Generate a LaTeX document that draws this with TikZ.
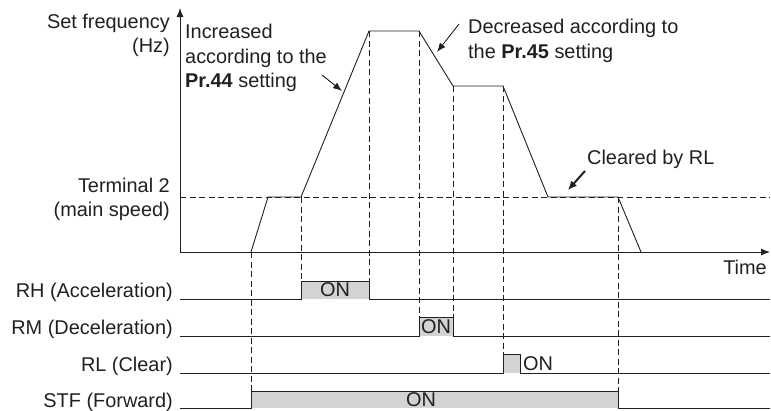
\documentclass[tikz,border=0pt]{standalone}
\usepackage{fontspec}
\setmainfont{Liberation Sans}
\usetikzlibrary{arrows.meta}
\definecolor{ink}{HTML}{231F20}
\definecolor{onfill}{HTML}{D1D3D4}
\begin{document}
\begin{tikzpicture}[x=1pt,y=-1pt,
  txt/.style={font=\fontsize{19.9}{24}\selectfont, text=ink, inner sep=0pt},
  lbl/.style={txt, anchor=base east},
  wave/.style={draw=ink, line width=0.9pt},
  guide/.style={draw=ink, line width=0.7pt, dash pattern=on 6pt off 3.5pt},
  onbox/.style={fill=onfill},
  axis/.style={draw=ink, line width=0.9pt, -{Latex[length=9pt,width=7pt]}},
  callout/.style={draw=ink, line width=0.9pt, -{Latex[length=9pt,width=7pt]}},
  boldcallout/.style={draw=ink, line width=2pt, -{Latex[length=9pt,width=8pt]}}]
\useasboundingbox (0,0) rectangle (771,410);

% curve points
\coordinate (o) at (180,252);
\coordinate (p0) at (251,252);
\coordinate (p1) at (268,197);
\coordinate (p2) at (301,197);
\coordinate (p3) at (369,31);
\coordinate (p4) at (419,31);
\coordinate (p5) at (453,86);
\coordinate (p6) at (503,86);
\coordinate (p7) at (548,197);
\coordinate (p8) at (618,197);
\coordinate (p9) at (641,252);
\coordinate (ytop) at (180,8);
\coordinate (xend) at (770,252);
\coordinate (t2a) at (180,197);
\coordinate (t2b) at (770,197);

% ON fills
\fill[onbox] (301,281) rectangle (369,299);
\fill[onbox] (419,317) rectangle (453,336);
\fill[onbox] (503,354) rectangle (520,373);
\fill[onbox] (251,391) rectangle (618,408);

% guides
\draw[guide] (t2a) -- (t2b);
\coordinate (g0) at (251,391);
\coordinate (g2) at (301,281);
\coordinate (g3) at (369,281);
\coordinate (g4) at (419,317);
\coordinate (g5) at (453,317);
\coordinate (g6) at (503,354);
\coordinate (g8) at (618,391);
\draw[guide] (p0) -- (g0);
\draw[guide] (p2) -- (g2);
\draw[guide] (p3) -- (g3);
\draw[guide] (p4) -- (g4);
\draw[guide] (p5) -- (g5);
\draw[guide] (p6) -- (g6);
\draw[guide] (p8) -- (g8);

% axes
\draw[axis] (o) -- (ytop);
\draw[axis] (o) -- (xend);

% frequency curve
\draw[wave] (p0) -- (p1) -- (p2) -- (p3) -- (p4) -- (p5) -- (p6) -- (p7) -- (p8) -- (p9);

% signals
\draw[wave] (180,299) -- (301,299) -- (g2) -- (g3) -- (369,299) -- (770,299);
\draw[wave] (180,336) -- (419,336) -- (g4) -- (g5) -- (453,336) -- (770,336);
\draw[wave] (180,373) -- (503,373) -- (g6) -- (520,354) -- (520,373) -- (770,373);
\draw[wave] (180,408) -- (251,408) -- (g0) -- (g8) -- (618,408) -- (770,408);

% labels
\node[lbl] (sf) at (170,28) {Set frequency};
\node[lbl] (hz) at (170,52) {(Hz)};
\node[lbl] (t2) at (170,192) {Terminal 2};
\node[lbl] (ms) at (170,216) {(main speed)};
\node[lbl] (time) at (767,274) {Time};
\node[lbl] (rh) at (173,297) {RH (Acceleration)};
\node[lbl] (rm) at (173,334) {RM (Deceleration)};
\node[lbl] (rl) at (173,371) {RL (Clear)};
\node[lbl] (stf) at (173,407) {STF (Forward)};

\node[txt, anchor=base west] (inc1) at (185,38) {Increased};
\node[txt, anchor=base west] (inc2) at (185,63) {according to the};
\node[txt, anchor=base west] (inc3) at (185,87) {\textbf{Pr.44} setting};
\node[txt, anchor=base west] (dec1) at (468,33) {Decreased according to};
\node[txt, anchor=base west] (dec2) at (468,58) {the \textbf{Pr.45} setting};
\node[txt, anchor=base west] (clr) at (587,164) {Cleared by RL};

\node[txt, anchor=base] (on1) at (335,296) {ON};
\node[txt, anchor=base] (on2) at (436,333) {ON};
\node[txt, anchor=base west] (on3) at (523,370) {ON};
\node[txt, anchor=base] (on4) at (421,406) {ON};

% callouts
\coordinate (a1s) at (322,75);
\coordinate (a1e) at (342,91);
\coordinate (a2s) at (459,24);
\coordinate (a2e) at (437,52);
\coordinate (a3s) at (585,171);
\coordinate (a3e) at (568,190);
\draw[callout] (a1s) -- (a1e);
\draw[callout] (a2s) -- (a2e);
\draw[boldcallout] (a3s) -- (a3e);
\end{tikzpicture}
\end{document}
